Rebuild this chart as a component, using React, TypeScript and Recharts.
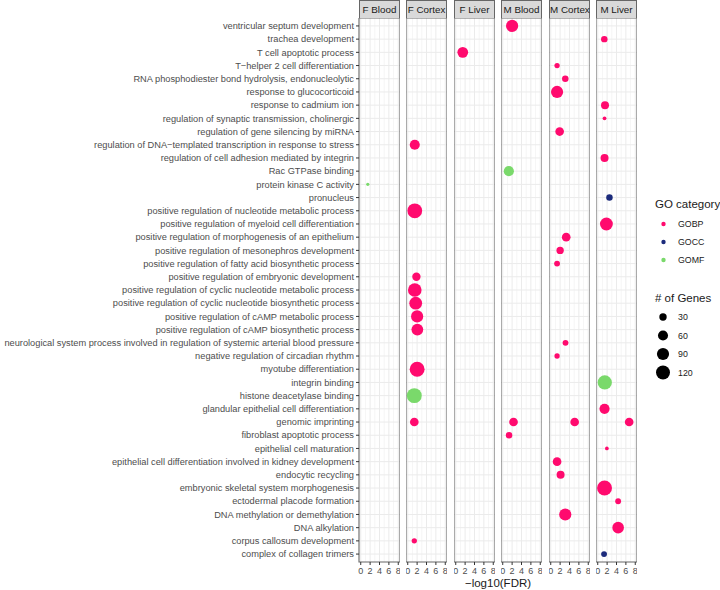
import React from "react";
import {
  CartesianGrid,
  Cell,
  ReferenceArea,
  Scatter,
  ScatterChart,
  XAxis,
  YAxis,
  ZAxis,
} from "recharts";

// GO terms, top to bottom as in the figure
const TERMS = [
  "ventricular septum development",
  "trachea development",
  "T cell apoptotic process",
  "T\u2212helper 2 cell differentiation",
  "RNA phosphodiester bond hydrolysis, endonucleolytic",
  "response to glucocorticoid",
  "response to cadmium ion",
  "regulation of synaptic transmission, cholinergic",
  "regulation of gene silencing by miRNA",
  "regulation of DNA\u2212templated transcription in response to stress",
  "regulation of cell adhesion mediated by integrin",
  "Rac GTPase binding",
  "protein kinase C activity",
  "pronucleus",
  "positive regulation of nucleotide metabolic process",
  "positive regulation of myeloid cell differentiation",
  "positive regulation of morphogenesis of an epithelium",
  "positive regulation of mesonephros development",
  "positive regulation of fatty acid biosynthetic process",
  "positive regulation of embryonic development",
  "positive regulation of cyclic nucleotide metabolic process",
  "positive regulation of cyclic nucleotide biosynthetic process",
  "positive regulation of cAMP metabolic process",
  "positive regulation of cAMP biosynthetic process",
  "neurological system process involved in regulation of systemic arterial blood pressure",
  "negative regulation of circadian rhythm",
  "myotube differentiation",
  "integrin binding",
  "histone deacetylase binding",
  "glandular epithelial cell differentiation",
  "genomic imprinting",
  "fibroblast apoptotic process",
  "epithelial cell maturation",
  "epithelial cell differentiation involved in kidney development",
  "endocytic recycling",
  "embryonic skeletal system morphogenesis",
  "ectodermal placode formation",
  "DNA methylation or demethylation",
  "DNA alkylation",
  "corpus callosum development",
  "complex of collagen trimers",
];

type GO = "GOBP" | "GOCC" | "GOMF";
type Hit = { term: number; fdr: number; genes: number; go: GO };

// term = 1-based row in TERMS, fdr = -log10(FDR), genes = # of genes
const F_BLOOD: Hit[] = [{ term: 13, fdr: 1.5, genes: 2, go: "GOMF" }];

const F_CORTEX: Hit[] = [
  { term: 10, fdr: 1.5, genes: 60, go: "GOBP" },
  { term: 15, fdr: 1.5, genes: 135, go: "GOBP" },
  { term: 20, fdr: 1.85, genes: 40, go: "GOBP" },
  { term: 21, fdr: 1.5, genes: 114, go: "GOBP" },
  { term: 22, fdr: 1.7, genes: 100, go: "GOBP" },
  { term: 23, fdr: 2.0, genes: 90, go: "GOBP" },
  { term: 24, fdr: 2.05, genes: 84, go: "GOBP" },
  { term: 27, fdr: 2.0, genes: 137, go: "GOBP" },
  { term: 29, fdr: 1.4, genes: 137, go: "GOMF" },
  { term: 31, fdr: 1.4, genes: 43, go: "GOBP" },
  { term: 40, fdr: 1.4, genes: 13, go: "GOBP" },
];

const F_LIVER: Hit[] = [{ term: 3, fdr: 1.5, genes: 69, go: "GOBP" }];

const M_BLOOD: Hit[] = [
  { term: 1, fdr: 2.0, genes: 90, go: "GOBP" },
  { term: 12, fdr: 1.3, genes: 61, go: "GOMF" },
  { term: 31, fdr: 2.3, genes: 43, go: "GOBP" },
  { term: 32, fdr: 1.35, genes: 22, go: "GOBP" },
];

const M_CORTEX: Hit[] = [
  { term: 4, fdr: 1.35, genes: 13, go: "GOBP" },
  { term: 5, fdr: 3.1, genes: 22, go: "GOBP" },
  { term: 6, fdr: 1.35, genes: 90, go: "GOBP" },
  { term: 9, fdr: 1.9, genes: 43, go: "GOBP" },
  { term: 17, fdr: 3.3, genes: 43, go: "GOBP" },
  { term: 18, fdr: 2.0, genes: 30, go: "GOBP" },
  { term: 19, fdr: 1.35, genes: 17, go: "GOBP" },
  { term: 25, fdr: 3.15, genes: 17, go: "GOBP" },
  { term: 26, fdr: 1.35, genes: 13, go: "GOBP" },
  { term: 31, fdr: 5.1, genes: 43, go: "GOBP" },
  { term: 34, fdr: 1.35, genes: 43, go: "GOBP" },
  { term: 35, fdr: 2.1, genes: 36, go: "GOBP" },
  { term: 38, fdr: 3.1, genes: 90, go: "GOBP" },
];

const M_LIVER: Hit[] = [
  { term: 2, fdr: 1.4, genes: 22, go: "GOBP" },
  { term: 7, fdr: 1.55, genes: 36, go: "GOBP" },
  { term: 8, fdr: 1.45, genes: 4, go: "GOBP" },
  { term: 11, fdr: 1.45, genes: 36, go: "GOBP" },
  { term: 14, fdr: 2.5, genes: 22, go: "GOCC" },
  { term: 16, fdr: 1.85, genes: 100, go: "GOBP" },
  { term: 28, fdr: 1.5, genes: 125, go: "GOMF" },
  { term: 30, fdr: 1.45, genes: 61, go: "GOBP" },
  { term: 31, fdr: 6.7, genes: 43, go: "GOBP" },
  { term: 33, fdr: 1.95, genes: 4, go: "GOBP" },
  { term: 36, fdr: 1.45, genes: 137, go: "GOBP" },
  { term: 37, fdr: 4.35, genes: 17, go: "GOBP" },
  { term: 39, fdr: 4.35, genes: 81, go: "GOBP" },
  { term: 41, fdr: 1.35, genes: 17, go: "GOCC" },
];

const PANELS: { name: string; hits: Hit[] }[] = [
  { name: "F Blood", hits: F_BLOOD },
  { name: "F Cortex", hits: F_CORTEX },
  { name: "F Liver", hits: F_LIVER },
  { name: "M Blood", hits: M_BLOOD },
  { name: "M Cortex", hits: M_CORTEX },
  { name: "M Liver", hits: M_LIVER },
];

const GO_CATEGORIES: GO[] = ["GOBP", "GOCC", "GOMF"];
const GO_COLORS: Record<GO, string> = {
  GOBP: "#FF0A6E",
  GOCC: "#1C2B7C",
  GOMF: "#7AD96B",
};
const SIZE_BREAKS = [30, 60, 90, 120];
const X_TICKS = [0, 2, 4, 6, 8];
const X_MINOR = [1, 3, 5, 7];
const ROW_TICKS = TERMS.map((_, i) => i + 1);

// size scale: # of genes -> symbol area (px^2)
const GENE_DOMAIN: [number, number] = [0, 140];
const AREA_RANGE: [number, number] = [6, 178];

const FONT = "'Liberation Sans', Arial, Helvetica, sans-serif";
const LABEL_W = 359;
const PANEL_W = 41;
const PANEL_STEP = 47.4;
const STRIP_H = 18;
const PLOT_H = 544;
const XAXIS_H = 22;

function radiusFor(genes: number) {
  const t = (genes - GENE_DOMAIN[0]) / (GENE_DOMAIN[1] - GENE_DOMAIN[0]);
  const area = AREA_RANGE[0] + t * (AREA_RANGE[1] - AREA_RANGE[0]);
  return Math.sqrt(area / Math.PI);
}

// plain one-line label, no wrapping
function TermTick(props: any) {
  const { x, y, payload } = props;
  return (
    <text
      x={x}
      y={y}
      dy="0.35em"
      textAnchor="end"
      fill="#4D4D4D"
      fontSize={9.25}
      fontFamily={FONT}
    >
      {TERMS[payload.value - 1] ?? ""}
    </text>
  );
}

function Panel({ hits, index }: { hits: Hit[]; index: number }) {
  const first = index === 0;
  const yW = first ? LABEL_W : 0;
  const left = Math.round(LABEL_W + index * PANEL_STEP) - yW;
  return (
    <div style={{ position: "absolute", left, top: STRIP_H }}>
      <ScatterChart
        width={yW + PANEL_W}
        height={PLOT_H + XAXIS_H}
        margin={{ top: 0, right: 0, bottom: 0, left: 0 }}
      >
        <CartesianGrid
          stroke="#F0F0F0"
          strokeWidth={0.7}
          verticalValues={X_MINOR}
          horizontal={false}
        />
        <CartesianGrid
          stroke="#EBEBEB"
          strokeWidth={1}
          verticalValues={X_TICKS}
          horizontalValues={ROW_TICKS}
        />
        <XAxis
          type="number"
          dataKey="fdr"
          domain={[-0.37, 8.37]}
          ticks={X_TICKS}
          interval={0}
          allowDataOverflow
          height={XAXIS_H}
          axisLine={false}
          tickSize={3}
          tickMargin={3}
          tickLine={{ stroke: "#333333" }}
          tick={{ fill: "#4D4D4D", fontSize: 9, fontFamily: FONT }}
        />
        <YAxis
          type="number"
          dataKey="term"
          domain={[0.4, TERMS.length + 0.6]}
          reversed
          ticks={ROW_TICKS}
          interval={0}
          allowDataOverflow
          hide={!first}
          width={yW}
          axisLine={false}
          tickSize={3}
          tickMargin={2}
          tickLine={{ stroke: "#333333" }}
          tick={<TermTick />}
        />
        <ZAxis
          type="number"
          dataKey="genes"
          domain={GENE_DOMAIN}
          range={AREA_RANGE}
        />
        <ReferenceArea
          x1={-0.37}
          x2={8.37}
          y1={0.4}
          y2={TERMS.length + 0.6}
          fill="none"
          stroke="#666666"
          strokeWidth={1.1}
          ifOverflow="visible"
        />
        <Scatter data={hits} isAnimationActive={false}>
          {hits.map((h, i) => (
            <Cell key={i} fill={GO_COLORS[h.go]} />
          ))}
        </Scatter>
      </ScatterChart>
    </div>
  );
}

function Legend() {
  return (
    <div
      style={{
        position: "absolute",
        left: 655,
        top: 197,
        width: 65,
        whiteSpace: "nowrap",
        fontFamily: FONT,
        color: "#1A1A1A",
      }}
    >
      <div style={{ fontSize: 11.5, lineHeight: "14px" }}>GO category</div>
      <svg width={60} height={62} style={{ display: "block" }}>
        {GO_CATEGORIES.map((g, i) => (
          <g key={g} transform={`translate(0 ${i * 18})`}>
            <circle cx={8.5} cy={13} r={2.2} fill={GO_COLORS[g]} />
            <text x={23} y={16.2} fontSize={8.8} fill="#1A1A1A">
              {g}
            </text>
          </g>
        ))}
      </svg>
      <div style={{ fontSize: 11.5, lineHeight: "14px", marginTop: 18 }}>
        # of Genes
      </div>
      <svg width={60} height={80} style={{ display: "block" }}>
        {SIZE_BREAKS.map((n, i) => (
          <g key={n} transform={`translate(0 ${i * 18.5})`}>
            <circle cx={8} cy={12} r={radiusFor(n)} fill="#000" />
            <text x={23} y={15.2} fontSize={8.8} fill="#1A1A1A">
              {n}
            </text>
          </g>
        ))}
      </svg>
    </div>
  );
}

export default function App() {
  return (
    <div
      style={{
        position: "absolute",
        left: 0,
        top: 0,
        width: 720,
        height: 590,
        background: "#fff",
        fontFamily: FONT,
        overflow: "hidden",
      }}
    >
      {PANELS.map((p, i) => (
        <div
          key={p.name}
          style={{
            position: "absolute",
            left: Math.round(LABEL_W + i * PANEL_STEP),
            top: 0,
            width: PANEL_W - 2,
            height: STRIP_H - 1,
            background: "#D9D9D9",
            border: "1px solid #666666",
            borderBottom: "none",
            fontSize: 9.8,
            lineHeight: `${STRIP_H - 1}px`,
            textAlign: "center",
            color: "#1A1A1A",
            whiteSpace: "nowrap",
          }}
        >
          {p.name}
        </div>
      ))}
      {PANELS.map((p, i) => (
        <Panel key={p.name} hits={p.hits} index={i} />
      ))}
      <div
        style={{
          position: "absolute",
          left: LABEL_W,
          width: Math.round(5 * PANEL_STEP + PANEL_W),
          top: 577,
          fontSize: 11.5,
          lineHeight: "13px",
          textAlign: "center",
          color: "#1A1A1A",
        }}
      >
        {"\u2212log10(FDR)"}
      </div>
      <Legend />
    </div>
  );
}
